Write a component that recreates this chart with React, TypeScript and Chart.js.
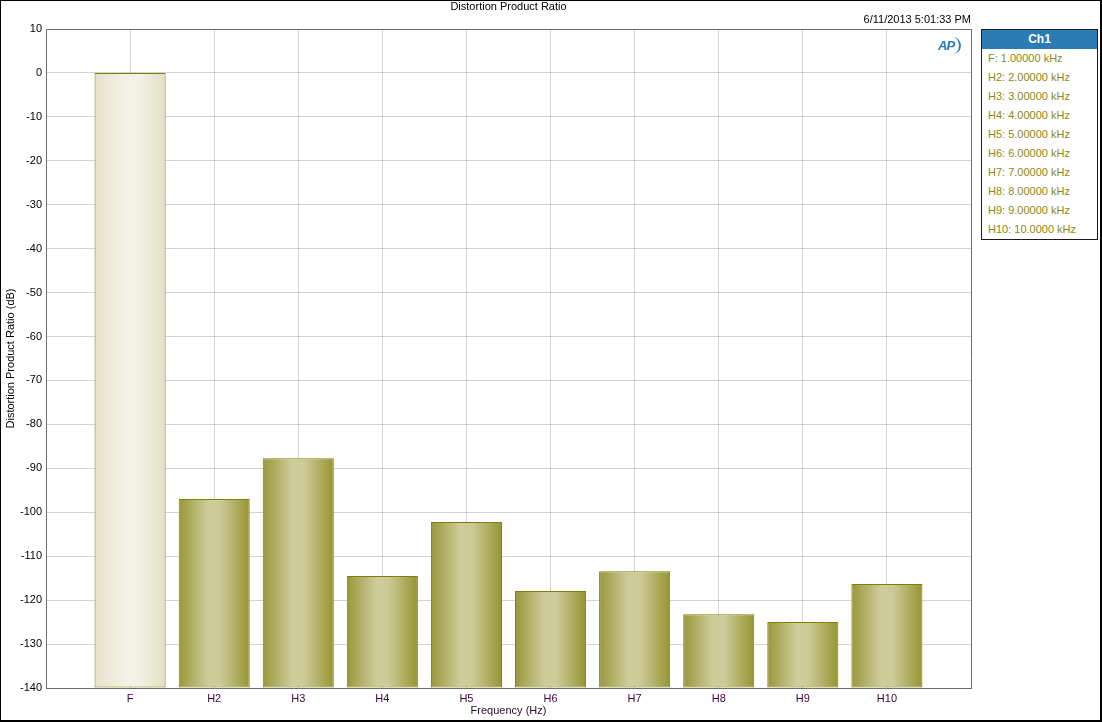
import React, { useEffect, useRef } from "react";
import { Chart, registerables } from "chart.js";

Chart.register(...registerables);

// ---- data ----
const categories = ["F", "H2", "H3", "H4", "H5", "H6", "H7", "H8", "H9", "H10"];
const ratioDb = [0, -97.0, -87.7, -114.5, -102.2, -117.9, -113.4, -123.2, -125.0, -116.3];
const legendItems = [
  "F: 1.00000 kHz",
  "H2: 2.00000 kHz",
  "H3: 3.00000 kHz",
  "H4: 4.00000 kHz",
  "H5: 5.00000 kHz",
  "H6: 6.00000 kHz",
  "H7: 7.00000 kHz",
  "H8: 8.00000 kHz",
  "H9: 9.00000 kHz",
  "H10: 10.0000 kHz",
];
const yMin = -140;
const yMax = 10;
const yStep = 10;
const chartTitle = "Distortion Product Ratio";
const timestamp = "6/11/2013 5:01:33 PM";
const xTitle = "Frequency (Hz)";
const yTitle = "Distortion Product Ratio (dB)";
const legendTitle = "Ch1";

const FONT = '"Liberation Sans", Arial, sans-serif';
const BAR_PCT = 0.845;
const AXIS_DARK = "#6e6e6e";
const GRID = "rgba(0,0,0,0.17)";

export default function App() {
  const ref = useRef<HTMLCanvasElement | null>(null);

  useEffect(() => {
    document.body.style.margin = "0";
    const canvas = ref.current;
    if (!canvas) return;

    // padded with an empty slot on each side so categories sit at 1..10 of 0..11
    const labels = ["", ...categories, ""];
    const values: (number | null)[] = [null, ...ratioDb, null];

    const barFill = (ctx: any) => {
      const chart = ctx.chart;
      const xs = chart.scales && chart.scales.x;
      const fundamental = labels[ctx.dataIndex] === "F";
      const fallback = fundamental ? "#efeedd" : "#b8b56a";
      if (!xs || ctx.type !== "data") return fallback;
      const c = xs.getPixelForValue(ctx.dataIndex);
      const spacing = Math.abs(xs.getPixelForValue(1) - xs.getPixelForValue(0));
      if (!isFinite(c) || !isFinite(spacing) || spacing <= 0) return fallback;
      const half = (spacing * BAR_PCT) / 2;
      const g = chart.ctx.createLinearGradient(c - half, 0, c + half, 0);
      if (fundamental) {
        g.addColorStop(0, "#e4e2c9");
        g.addColorStop(0.42, "#f3f2e6");
        g.addColorStop(0.6, "#f3f2e6");
        g.addColorStop(1, "#e2e0c6");
      } else {
        g.addColorStop(0, "#98983a");
        g.addColorStop(0.42, "#cfcc9b");
        g.addColorStop(0.58, "#cdca98");
        g.addColorStop(1, "#959531");
      }
      return g;
    };

    const chart = new Chart(canvas, {
      type: "bar",
      data: {
        labels,
        datasets: [
          {
            label: legendTitle,
            data: values,
            base: yMin,
            backgroundColor: barFill,
            borderColor: "#808000",
            borderWidth: 1,
            borderSkipped: false,
            barPercentage: BAR_PCT,
            categoryPercentage: 1,
          } as any,
        ],
      },
      options: {
        responsive: false,
        animation: false,
        devicePixelRatio: 1,
        layout: { padding: { left: 0, top: 0, right: 131, bottom: 0 } },
        plugins: {
          legend: { display: false },
          tooltip: { enabled: false },
          title: {
            display: true,
            text: chartTitle,
            fullSize: false,
            color: "#000",
            font: { family: FONT, size: 11, weight: "normal", lineHeight: "13px" },
            padding: { top: 0, bottom: 0 },
          },
          subtitle: {
            display: true,
            text: timestamp,
            align: "end",
            fullSize: false,
            color: "#000",
            font: { family: FONT, size: 11, lineHeight: "13px" },
            padding: { top: 0, bottom: 3 },
          },
        },
        scales: {
          x: {
            type: "category",
            offset: false,
            z: 1,
            afterFit: (s: any) => {
              s.height = 34;
            },
            grid: {
              offset: false,
              drawTicks: false,
              color: (c: any) => (c.index === labels.length - 1 ? AXIS_DARK : GRID),
            },
            border: { color: AXIS_DARK },
            ticks: {
              autoSkip: false,
              maxRotation: 0,
              padding: 4,
              color: "#400040",
              font: { family: FONT, size: 11 },
            },
            title: {
              display: true,
              text: xTitle,
              color: "#2a0a2a",
              font: { family: FONT, size: 11 },
              padding: { top: 0, bottom: 4 },
            },
          },
          y: {
            type: "linear",
            min: yMin,
            max: yMax,
            z: 1,
            afterFit: (s: any) => {
              s.width = 46;
            },
            grid: {
              drawTicks: false,
              color: (c: any) => (c.tick && c.tick.value === yMax ? AXIS_DARK : GRID),
            },
            border: { color: AXIS_DARK },
            ticks: {
              stepSize: yStep,
              padding: 4,
              color: "#000",
              font: { family: FONT, size: 11 },
            },
            title: {
              display: true,
              text: yTitle,
              color: "#000",
              font: { family: FONT, size: 11 },
              padding: { top: 4, bottom: 0 },
            },
          },
        },
      },
    });

    return () => chart.destroy();
  }, []);

  return (
    <div
      style={{
        position: "relative",
        width: 1102,
        height: 722,
        background: "#fff",
        fontFamily: FONT,
        overflow: "hidden",
      }}
    >
      <canvas
        ref={ref}
        width={1102}
        height={722}
        style={{ position: "absolute", left: 0, top: 0, width: 1102, height: 722 }}
      />
      {/* AP logo */}
      <div
        style={{
          position: "absolute",
          left: 937,
          top: 37,
          width: 24,
          height: 17,
          color: "#2b7bbd",
          fontStyle: "italic",
          fontWeight: "bold",
          fontSize: 13,
          lineHeight: "17px",
          borderRight: "2px solid #2b7bbd",
          borderRadius: "0 10px 10px 0",
          textAlign: "left",
          paddingLeft: 1,
          boxSizing: "border-box",
          letterSpacing: -1,
        }}
      >
        AP
      </div>
      {/* legend */}
      <div
        style={{
          position: "absolute",
          left: 981,
          top: 29,
          width: 117,
          height: 211,
          border: "1px solid #1a1a1a",
          boxSizing: "border-box",
          background: "#fff",
        }}
      >
        <div
          style={{
            height: 19,
            lineHeight: "19px",
            background: "#2b7bb5",
            color: "#fff",
            fontWeight: "bold",
            fontSize: 12,
            textAlign: "center",
          }}
        >
          {legendTitle}
        </div>
        {legendItems.map((t) => (
          <div
            key={t}
            style={{
              height: 19,
              lineHeight: "19px",
              fontSize: 11,
              color: "#8a8a12",
              paddingLeft: 6,
              whiteSpace: "nowrap",
            }}
          >
            {t}
          </div>
        ))}
      </div>
      {/* outer frame */}
      <div
        style={{
          position: "absolute",
          left: 0,
          top: 0,
          width: 1102,
          height: 722,
          boxSizing: "border-box",
          borderLeft: "1px solid #000",
          borderTop: "1px solid #000",
          borderRight: "2px solid #000",
          borderBottom: "2px solid #000",
          pointerEvents: "none",
        }}
      />
    </div>
  );
}
